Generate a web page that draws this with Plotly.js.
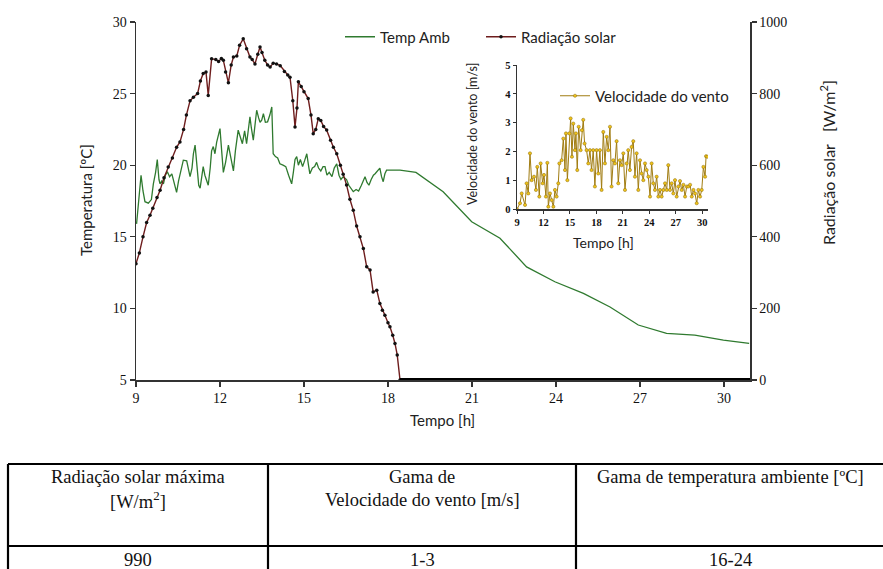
<!DOCTYPE html>
<html>
<head>
<meta charset="utf-8">
<script src="https://cdn.plot.ly/plotly-3.0.1.min.js"></script>
<style>
html,body{margin:0;padding:0;background:#fff;}
#chart{width:883px;height:569px;}
</style>
</head>
<body>
<div id="chart"></div>
<script>
// ---------- DATA ----------
// Ambient temperature [ºC] vs time [h]
var tempT = [9.02,9.10,9.18,9.25,9.32,9.44,9.55,9.62,9.70,9.76,
  9.82,9.86,9.92,9.98,10.05,10.12,10.20,10.28,10.38,10.45,
  10.52,10.60,10.69,10.81,10.87,10.93,11.00,11.05,11.11,11.18,
  11.24,11.29,11.35,11.40,11.46,11.52,11.58,11.65,11.70,11.76,
  11.82,11.88,11.94,12.00,12.06,12.12,12.20,12.30,12.38,12.48,
  12.55,12.65,12.72,12.80,12.88,12.95,13.02,13.07,13.12,13.19,
  13.25,13.31,13.38,13.43,13.49,13.55,13.62,13.70,13.78,13.85,
  13.90,13.98,14.06,14.14,14.25,14.35,14.45,14.56,14.62,14.68,
  14.74,14.80,14.87,14.95,15.02,15.10,15.16,15.21,15.30,15.38,
  15.45,15.52,15.60,15.68,15.75,15.82,15.90,16.00,16.08,16.17,
  16.25,16.32,16.40,16.52,16.60,16.68,16.76,16.86,16.95,17.05,
  17.12,17.18,17.25,17.32,17.40,17.48,17.54,17.62,17.71,17.77,
  17.83,17.89,17.95,18.43,19.00,19.97,20.99,22.00,22.95,23.96,
  24.98,25.93,26.94,27.95,28.96,29.98,30.90];
var tempV = [15.9,17.5,19.3,18.2,17.45,17.35,17.6,18.7,19.5,20.4,
  19.0,18.7,18.9,18.7,19.3,19.55,19.2,19.4,18.6,18.1,
  18.9,19.6,20.35,20.3,19.6,19.2,19.8,20.8,21.4,19.8,
  18.6,18.4,19.2,19.9,19.3,18.9,18.6,19.8,21.0,21.3,
  20.8,21.6,22.2,22.56,21.0,19.5,20.2,21.4,20.6,19.6,
  21.0,22.45,22.0,21.5,22.4,21.5,22.6,23.37,22.6,21.75,
  22.8,23.84,23.3,23.0,23.14,23.6,23.0,23.03,23.5,24.07,
  20.8,20.6,20.5,20.1,20.0,19.9,19.3,18.7,19.5,20.4,
  20.6,20.0,20.4,19.9,20.3,20.8,20.0,19.4,19.8,19.9,
  20.2,19.8,19.6,19.9,19.9,19.3,19.5,19.2,19.8,20.1,
  19.3,19.0,19.2,19.0,18.6,18.4,18.15,18.3,18.2,18.6,
  19.0,19.2,18.8,18.6,19.0,19.3,19.4,19.6,19.8,19.2,
  18.85,19.4,19.65,19.65,19.5,18.15,16.05,14.9,12.9,11.86,
  11.05,10.1,8.84,8.26,8.14,7.79,7.55];

// Solar radiation [W/m²] vs time [h] (daytime)
var radT = [9.00,9.12,9.25,9.38,9.50,9.60,9.75,9.86,10.00,10.15,
  10.30,10.45,10.57,10.70,10.80,10.93,11.05,11.20,11.30,11.40,
  11.50,11.58,11.70,11.85,11.95,12.05,12.12,12.20,12.30,12.40,
  12.48,12.60,12.70,12.83,12.95,13.07,13.15,13.25,13.35,13.43,
  13.50,13.60,13.70,13.79,13.90,14.02,14.15,14.30,14.42,14.50,
  14.60,14.68,14.75,14.80,14.90,15.00,15.15,15.25,15.33,15.42,
  15.51,15.60,15.70,15.81,15.95,16.05,16.17,16.30,16.40,16.52,
  16.64,16.76,16.88,17.00,17.12,17.24,17.36,17.47,17.60,17.71,
  17.80,17.89,18.00,18.07,18.17,18.25,18.33,18.43];
var radV = [325,355,400,440,460,480,510,530,565,595,
  620,650,665,700,740,780,790,800,835,856,
  860,795,897,895,890,898,893,860,830,880,
  902,905,935,953,925,902,895,883,910,930,
  915,893,880,874,885,883,878,862,852,846,
  780,707,760,833,820,805,786,740,688,700,
  730,725,708,698,670,650,632,600,575,545,
  505,474,430,400,367,316,307,246,251,214,
  195,181,160,149,125,102,70,0];
// Solar radiation during the night (zero readings)
var radNightT = [18.43, 31.0];
var radNightV = [0, 0];

// Wind speed [m/s] vs time [h] (inset)
var windT = [9.00,9.34,9.53,9.91,10.09,10.28,10.47,10.66,10.93,11.15,
  11.30,11.53,11.68,11.91,12.06,12.28,12.44,12.55,12.74,12.93,
  13.12,13.30,13.49,13.68,13.80,14.06,14.25,14.44,14.55,14.71,
  14.93,15.08,15.23,15.38,15.57,15.68,15.83,15.99,16.21,16.36,
  16.51,16.66,16.89,17.08,17.27,17.45,17.64,17.83,18.02,18.21,
  18.40,18.59,18.78,18.97,19.16,19.35,19.54,19.72,19.91,20.10,
  20.29,20.48,20.67,20.86,21.05,21.24,21.43,21.61,21.80,21.99,
  22.18,22.37,22.56,22.75,22.94,23.13,23.32,23.51,23.70,23.89,
  24.08,24.26,24.45,24.64,24.83,25.02,25.21,25.40,25.59,25.78,
  25.97,26.15,26.34,26.53,26.72,26.91,27.10,27.29,27.48,27.67,
  27.86,28.05,28.24,28.43,28.62,28.81,29.00,29.18,29.37,29.56,
  29.75,29.94,30.13,30.32,30.43,30.58];
var windV = [0.0,0.21,0.55,0.15,0.9,0.55,1.94,1.01,1.13,0.67,
  1.47,0.44,1.59,0.9,1.19,0.44,1.61,0.09,0.55,0.32,
  0.09,0.67,0.44,0.9,1.59,1.7,2.45,1.36,2.63,1.01,
  2.63,3.15,1.82,2.97,2.05,2.63,1.36,2.86,2.05,2.74,
  3.1,2.28,2.05,1.59,2.05,1.36,2.05,0.79,2.05,1.24,
  2.05,0.67,2.68,1.59,2.51,2.05,2.86,0.79,1.7,1.59,
  2.36,0.9,1.7,1.53,1.94,0.67,1.59,2.05,1.36,2.16,
  2.36,1.13,1.94,0.67,1.7,1.24,1.01,1.59,1.36,1.13,
  0.44,1.59,0.9,0.67,1.13,0.44,0.67,0.44,0.67,0.9,
  0.67,1.53,0.67,0.9,0.55,1.01,0.44,0.79,0.98,0.67,
  0.85,0.44,0.79,0.79,0.85,0.44,0.67,0.55,0.21,0.67,
  0.44,0.67,1.47,1.13,1.84,1.82];

// Tick labels
var mainXTicks = [9, 12, 15, 18, 21, 24, 27, 30];
var tempTicks = [5, 10, 15, 20, 25, 30];
var radTicks = [0, 200, 400, 600, 800, 1000];
var insetXTicks = [9, 12, 15, 18, 21, 24, 27, 30];
var insetYTicks = [0, 1, 2, 3, 4, 5];

// Table content
var tableHeader1 = ["Radiação solar máxima", "Gama de", "Gama de temperatura ambiente [ºC]"];
var tableHeader2 = ["[W/m<sup>2</sup>]", "Velocidade do vento [m/s]", ""];
var tableValues = ["990", "1-3", "16-24"];

// ---------- STYLE / LAYOUT ----------
var SANS = "Lato, 'Open Sans', sans-serif";
var SERIF = "'Liberation Serif', 'Times New Roman', serif";
var AX = '#333';

// plot area in pixels: x 136..750, y 22..380
function px(x){ return (x - 136) / 614; }
function py(y){ return (380 - y) / 358; }

var traces = [
  {
    x: tempT, y: tempV, type: 'scatter', mode: 'lines', name: 'Temp Amb',
    line: {color: '#2f7a2f', width: 1.3}, xaxis: 'x', yaxis: 'y', legend: 'legend'
  },
  {
    x: radT, y: radV, type: 'scatter', mode: 'lines+markers', name: 'Radiação solar',
    line: {color: '#6e1d1d', width: 1.4},
    marker: {color: '#111', size: 3.5},
    xaxis: 'x', yaxis: 'y2', legend: 'legend3'
  },
  {
    x: radNightT, y: radNightV, type: 'scatter', mode: 'lines', showlegend: false,
    line: {color: '#000', width: 4}, xaxis: 'x', yaxis: 'y2', cliponaxis: false
  },
  {
    x: windT, y: windV, type: 'scatter', mode: 'lines+markers', name: 'Velocidade do vento',
    line: {color: '#a07c12', width: 1},
    marker: {color: '#f0c419', size: 3.2, line: {color: '#8a6a10', width: 0.5}},
    xaxis: 'x3', yaxis: 'y3', legend: 'legend2'
  }
];

var shapes = [];
var tableTop = py(464), tableMid = py(546), tableBot = py(600);
var colX = [px(8), px(268), px(576), px(905)];
[tableTop, tableMid].forEach(function(yy){
  shapes.push({type:'line', xref:'paper', yref:'paper', x0: colX[0], x1: colX[3], y0: yy, y1: yy,
    line:{color:'#000', width:2.2}});
});
colX.forEach(function(xx){
  shapes.push({type:'line', xref:'paper', yref:'paper', x0: xx, x1: xx, y0: tableTop, y1: tableBot,
    line:{color:'#000', width:2.2}});
});

var colCenters = [px(138), px(422), px(730)];
var annotations = [];
for (var i = 0; i < 3; i++) {
  annotations.push({xref:'paper', yref:'paper', x: colCenters[i], y: py(477), text: tableHeader1[i],
    showarrow:false, xanchor:'center', yanchor:'middle', font:{family:SERIF, size:18.5, color:'#111'}});
  if (tableHeader2[i]) annotations.push({xref:'paper', yref:'paper', x: colCenters[i], y: py(500), text: tableHeader2[i],
    showarrow:false, xanchor:'center', yanchor:'middle', font:{family:SERIF, size:18.5, color:'#111'}});
  annotations.push({xref:'paper', yref:'paper', x: colCenters[i], y: py(560), text: tableValues[i],
    showarrow:false, xanchor:'center', yanchor:'middle', font:{family:SERIF, size:18.5, color:'#111'}});
}
annotations.push({xref:'paper', yref:'paper', x: px(86), y: py(200), text:'Temperatura [ºC]', textangle:-90,
  showarrow:false, xanchor:'center', yanchor:'middle', font:{family:SANS, size:15, color:'#222'}});
annotations.push({xref:'paper', yref:'paper', x: px(828), y: py(163), text:'Radiação solar   [W/m<sup>2</sup>]', textangle:-90,
  showarrow:false, xanchor:'center', yanchor:'middle', font:{family:SANS, size:16, color:'#222'}});
annotations.push({xref:'paper', yref:'paper', x: px(442), y: py(420), text:'Tempo [h]',
  showarrow:false, xanchor:'center', yanchor:'middle', font:{family:SANS, size:15, color:'#222'}});
annotations.push({xref:'paper', yref:'paper', x: px(472), y: py(134), text:'Velocidade do vento [m/s]', textangle:-90,
  showarrow:false, xanchor:'center', yanchor:'middle', font:{family:SANS, size:12.5, color:'#222'}});
annotations.push({xref:'paper', yref:'paper', x: px(603), y: py(243), text:'Tempo [h]',
  showarrow:false, xanchor:'center', yanchor:'middle', font:{family:SANS, size:14, color:'#222'}});

var legendBase = {orientation: 'h', xanchor: 'left', yanchor: 'middle',
  bgcolor: 'rgba(0,0,0,0)', font: {family: SANS, size: 15, color: '#222'}, itemwidth: 30};

var layout = {
  width: 883, height: 569, autosize: false,
  margin: {l: 136, r: 133, t: 22, b: 189, pad: 0},
  paper_bgcolor: '#fff', plot_bgcolor: 'rgba(0,0,0,0)',
  showlegend: true,
  xaxis: {
    range: [9, 30.93], tickvals: mainXTicks, ticks: 'outside', ticklen: 5, tickwidth: 1.2, tickcolor: AX,
    showline: true, linecolor: AX, linewidth: 1.5, showgrid: false, zeroline: false,
    tickfont: {family: SERIF, size: 14, color: '#111'}
  },
  yaxis: {
    range: [5, 30], tickvals: tempTicks, ticks: 'outside', ticklen: 5, tickwidth: 1.2, tickcolor: AX,
    showline: true, linecolor: AX, linewidth: 1.5, showgrid: false, zeroline: false,
    tickfont: {family: SERIF, size: 14, color: '#111'}
  },
  yaxis2: {
    range: [0, 1000], tickvals: radTicks, overlaying: 'y', side: 'right', anchor: 'x',
    ticks: 'outside', ticklen: 5, tickwidth: 1.2, tickcolor: AX,
    showline: true, linecolor: AX, linewidth: 1.5, showgrid: false, zeroline: false,
    tickfont: {family: SERIF, size: 14, color: '#111'}
  },
  xaxis3: {
    domain: [px(517), px(708)], anchor: 'y3', range: [9, 30.65], tickvals: insetXTicks,
    ticks: 'outside', ticklen: 3, tickwidth: 1, tickcolor: AX,
    showline: true, linecolor: AX, linewidth: 1.3, showgrid: false, zeroline: false,
    tickfont: {family: SERIF, size: 10.5, color: '#111', weight: 'bold'}
  },
  yaxis3: {
    domain: [py(209.3), py(65)], anchor: 'x3', range: [0, 5], tickvals: insetYTicks,
    ticks: 'outside', ticklen: 3, tickwidth: 1, tickcolor: AX,
    showline: true, linecolor: AX, linewidth: 1.3, showgrid: false, zeroline: false,
    tickfont: {family: SERIF, size: 10.5, color: '#111', weight: 'bold'}
  },
  legend: Object.assign({}, legendBase, {x: px(340), y: py(37)}),
  legend3: Object.assign({}, legendBase, {x: px(481), y: py(37)}),
  legend2: Object.assign({}, legendBase, {x: px(555), y: py(96)}),
  shapes: shapes,
  annotations: annotations
};

Plotly.newPlot('chart', traces, layout, {displayModeBar: false, staticPlot: true});
</script>
</body>
</html>
